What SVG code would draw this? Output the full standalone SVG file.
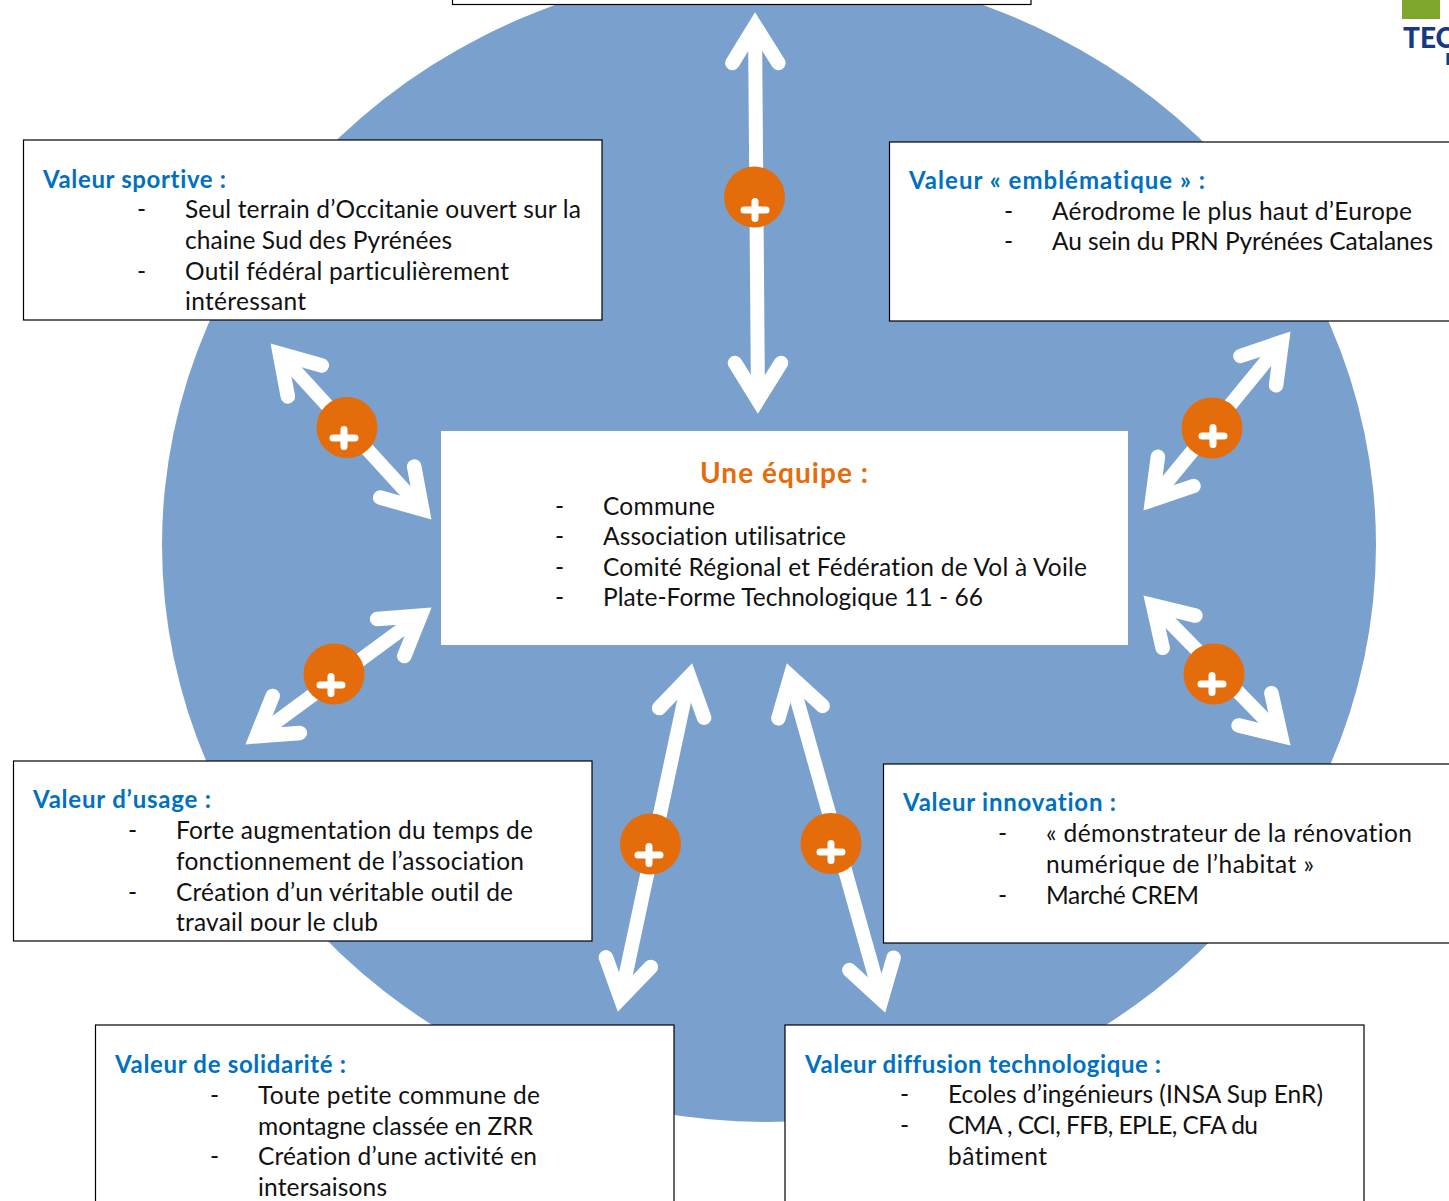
<svg xmlns="http://www.w3.org/2000/svg" width="1449" height="1201" viewBox="0 0 1449 1201">
<style>
text{font-family:"Lato","Liberation Sans",sans-serif;font-size:24.5px;fill:#111;font-variant-ligatures:none;transform:translateY(1px)}
.h{font-weight:700;fill:#0070c0;font-size:24px}
.box{fill:#fff;stroke:#000;stroke-width:1.2}
.a{fill:none;stroke:#fff;stroke-width:14.5;stroke-linecap:round;stroke-linejoin:miter;stroke-miterlimit:10}
.s{fill:none;stroke:#fff;stroke-width:14}
.b{fill:#e46c0a}
.p{fill:none;stroke:#fff;stroke-width:7;stroke-linecap:round}
</style>
<defs><clipPath id="c1"><rect x="14" y="762" width="577" height="168"/></clipPath></defs>
<ellipse id="disc" cx="769" cy="545" rx="607" ry="577" fill="#7aa0cd"/>
<g id="connectors">
<path class="s" d="M755 26L758 400"/><path class="a" d="M732.4 63L755.1 26L778.400 63M735 363L757.9 400L781 363"/>
<path class="s" d="M279.8 353.6L422.2 509.4"/><path class="a" d="M321.8 365.4L279.8 353.6L287.8 396.4M414.2 466.6L422.2 509.4L380.2 497.6"/>
<path class="s" d="M1281.8 342L1152.2 500"/><path class="a" d="M1276.1 385.2L1281.8 342L1240.5 356M1193.5 486L1152.2 500L1157.9 456.8"/>
<path class="s" d="M420.5 615.7L256.5 736.3"/><path class="a" d="M404.3 656.1L420.5 615.7L377.1 619.1M299.9 732.9L256.5 736.3L272.7 695.9"/>
<path class="s" d="M1153.1 605.3L1280.9 735.7"/><path class="a" d="M1195.4 615.6L1153.1 605.3L1162.6 647.8M1271.4 693.2L1280.9 735.7L1238.6 725.4"/>
<path class="s" d="M689.3 676.7L620.7 998.3"/><path class="a" d="M704.1 717.7L689.3 676.7L659.1 708.1M650.9 966.9L620.7 998.3L605.9 957.3"/>
<path class="s" d="M790.5 676.5L881.5 999.5"/><path class="a" d="M822.6 705.9L790.5 676.5L778.4 718.3M893.6 957.7L881.5 999.5L849.4 970.1"/>
</g>
<g id="badges">
<circle class="b" cx="754.5" cy="197" r="30.5"/><path class="p" d="M744 210H766M755 201.500V218.500"/>
<circle class="b" cx="347" cy="427.500" r="30.5"/><path class="p" d="M333 438H355M344 429.500V446.500"/>
<circle class="b" cx="1212" cy="428" r="30.5"/><path class="p" d="M1202 436H1224M1213 427.500V444.500"/>
<circle class="b" cx="334" cy="674" r="30.5"/><path class="p" d="M320 685H342M331 676.500V693.500"/>
<circle class="b" cx="1214" cy="674" r="30.5"/><path class="p" d="M1201 684H1223M1212 675.500V692.500"/>
<circle class="b" cx="650.500" cy="844" r="30.5"/><path class="p" d="M638 855H660M649 846.500V863.500"/>
<circle class="b" cx="831" cy="843.500" r="30.5"/><path class="p" d="M820 852H842M831 843.500V860.500"/>
</g>
<g id="logo">
<rect x="1402" y="0" width="38" height="19" fill="#7fa52c"/>
<text x="1403" y="47" style="font-size:28px;font-weight:900;fill:#16397f">TEC</text>
<rect x="1446.500" y="53" width="2.500" height="12" fill="#16397f"/>
</g>
<g id="node-top"><rect class="box" x="452.500" y="-5" width="578.500" height="9.500"/></g>
<g id="node-sportive">
<rect class="box" x="23.500" y="140" width="578.500" height="180"/>
<text class="h" x="43" y="187" textLength="183" lengthAdjust="spacing">Valeur sportive :</text>
<text x="137" y="217">-</text><text x="185" y="217" textLength="396" lengthAdjust="spacing">Seul terrain d’Occitanie ouvert sur la</text>
<text x="185" y="248" textLength="267" lengthAdjust="spacing">chaine Sud des Pyrénées</text>
<text x="137" y="279">-</text><text x="185" y="279" textLength="324" lengthAdjust="spacing">Outil fédéral particulièrement</text>
<text x="185" y="309" textLength="121" lengthAdjust="spacing">intéressant</text>
</g>
<g id="node-emblematique">
<rect class="box" x="889.500" y="142" width="580" height="179"/>
<text class="h" x="909" y="188" textLength="296" lengthAdjust="spacing">Valeur « emblématique » :</text>
<text x="1004" y="219">-</text><text x="1052" y="219" textLength="360" lengthAdjust="spacing">Aérodrome le plus haut d’Europe</text>
<text x="1004" y="249">-</text><text x="1052" y="249" textLength="381" lengthAdjust="spacing">Au sein du PRN Pyrénées Catalanes</text>
</g>
<g id="node-equipe">
<rect x="441" y="431" width="687" height="214" fill="#fff"/>
<text x="700" y="482" textLength="168" lengthAdjust="spacing" style="font-size:28px;font-weight:700;fill:#e46c0a">Une équipe :</text>
<text x="555" y="514">-</text><text x="603" y="514" textLength="112" lengthAdjust="spacing">Commune</text>
<text x="555" y="544">-</text><text x="603" y="544" textLength="243" lengthAdjust="spacing">Association utilisatrice</text>
<text x="555" y="575">-</text><text x="603" y="575" textLength="484" lengthAdjust="spacing">Comité Régional et Fédération de Vol à Voile</text>
<text x="555" y="605">-</text><text x="603" y="605" textLength="380" lengthAdjust="spacing">Plate-Forme Technologique 11 - 66</text>
</g>
<g id="node-usage">
<rect class="box" x="13.500" y="761" width="578.500" height="180"/>
<text class="h" x="33" y="807" textLength="178" lengthAdjust="spacing">Valeur d’usage :</text>
<text x="128" y="838">-</text><text x="176" y="838" textLength="357" lengthAdjust="spacing">Forte augmentation du temps de</text>
<text x="176" y="869" textLength="348" lengthAdjust="spacing">fonctionnement de l’association</text>
<text x="128" y="900">-</text><text x="176" y="900" textLength="337" lengthAdjust="spacing">Création d’un véritable outil de</text>
<text x="176" y="930" textLength="202" lengthAdjust="spacing" clip-path="url(#c1)">travail pour le club</text>
</g>
<g id="node-innovation">
<rect class="box" x="883.500" y="764" width="586" height="179"/>
<text class="h" x="903" y="810" textLength="213" lengthAdjust="spacing">Valeur innovation :</text>
<text x="998" y="841">-</text><text x="1046" y="841" textLength="366" lengthAdjust="spacing">« démonstrateur de la rénovation</text>
<text x="1046" y="872" textLength="268" lengthAdjust="spacing">numérique de l’habitat »</text>
<text x="998" y="903">-</text><text x="1046" y="903" textLength="153" lengthAdjust="spacing">Marché CREM</text>
</g>
<g id="node-solidarite">
<rect class="box" x="95.500" y="1025" width="578.500" height="190"/>
<text class="h" x="115" y="1072" textLength="231" lengthAdjust="spacing">Valeur de solidarité :</text>
<text x="210" y="1103">-</text><text x="258" y="1103" textLength="282" lengthAdjust="spacing">Toute petite commune de</text>
<text x="258" y="1134" textLength="275" lengthAdjust="spacing">montagne classée en ZRR</text>
<text x="210" y="1164">-</text><text x="258" y="1164" textLength="279" lengthAdjust="spacing">Création d’une activité en</text>
<text x="258" y="1195" textLength="129" lengthAdjust="spacing">intersaisons</text>
</g>
<g id="node-diffusion">
<rect class="box" x="785" y="1025" width="579" height="190"/>
<text class="h" x="805" y="1072" textLength="356" lengthAdjust="spacing">Valeur diffusion technologique :</text>
<text x="900" y="1102">-</text><text x="948" y="1102" textLength="375" lengthAdjust="spacing">Ecoles d’ingénieurs (INSA Sup EnR)</text>
<text x="900" y="1133">-</text><text x="948" y="1133" textLength="310" lengthAdjust="spacing">CMA , CCI, FFB, EPLE, CFA du</text>
<text x="948" y="1164" textLength="99" lengthAdjust="spacing">bâtiment</text>
</g>
</svg>
